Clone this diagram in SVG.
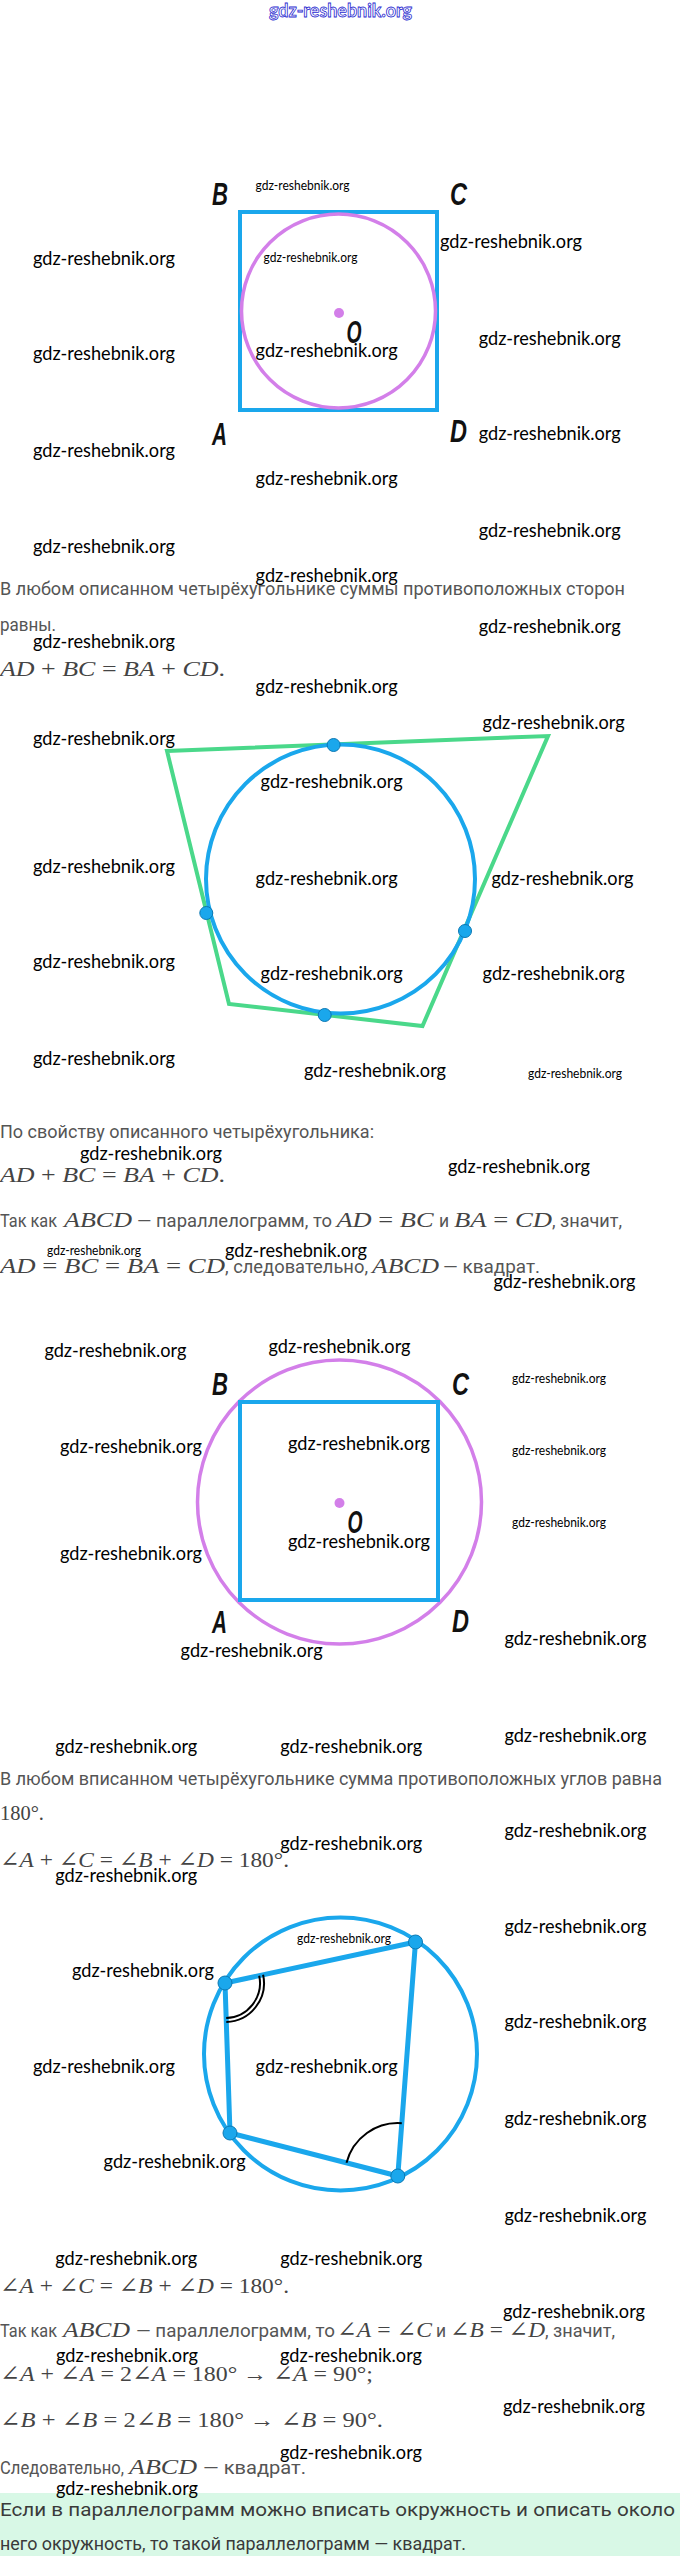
<svg xmlns="http://www.w3.org/2000/svg" width="680" height="2556" viewBox="0 0 680 2556">
<style>
.w{font-family:Lato,"Open Sans",sans-serif;font-size:19px;fill:#000}
.ws{font-family:Lato,"Open Sans",sans-serif;font-size:13px;fill:#000}
.t{font-family:Roboto,"Noto Sans",sans-serif;font-size:17.5px;fill:#555}
.tb{font-family:Roboto,"Noto Sans",sans-serif;font-size:18px;fill:#3a3a3a}
.m{font-family:"Liberation Serif","DejaVu Serif",serif;font-size:22px;fill:#444}
.i{font-style:italic}
.lbl{font-family:"Liberation Sans",sans-serif;font-weight:bold;font-style:italic;font-size:31px;fill:#111}
.blue{fill:none;stroke:#1aa7ec;stroke-width:4}
.vio{fill:none;stroke:#d37fe9;stroke-width:3.5}
.grn{fill:none;stroke:#4ad88a;stroke-width:4;stroke-linejoin:miter}
.dot{fill:#1aa7ec;stroke:#0b78b3;stroke-width:1}
.arc{fill:none;stroke:#000;stroke-width:2}
.top{font-family:Lato,"Open Sans",sans-serif;font-weight:bold;font-size:18px;fill:#fff;stroke:#2b2bd0;stroke-width:0.8}
</style>
<rect x="0" y="0" width="680" height="2556" fill="#fff"/>
<text class="top" x="269" y="17" textLength="143" lengthAdjust="spacingAndGlyphs">gdz-reshebnik.org</text>

<!-- Figure 1: square with inscribed circle -->
<g id="fig1">
<rect class="blue" x="240" y="212" width="197" height="198"/>
<circle class="vio" cx="338.5" cy="311" r="97"/>
<circle cx="339" cy="313" r="5" fill="#d37fe9"/>
<text class="lbl" x="212" y="205" textLength="16" lengthAdjust="spacingAndGlyphs">B</text>
<text class="lbl" x="450" y="205" textLength="17" lengthAdjust="spacingAndGlyphs">C</text>
<text class="lbl" x="212" y="445" textLength="15" lengthAdjust="spacingAndGlyphs">A</text>
<text class="lbl" x="450" y="442" textLength="17" lengthAdjust="spacingAndGlyphs">D</text>
<text class="lbl" x="346.5" y="343" textLength="15" lengthAdjust="spacingAndGlyphs">O</text>
</g>

<!-- Figure 2: circumscribed quadrilateral -->
<g id="fig2">
<polygon class="grn" points="167,751 548,736 422.5,1026 229,1004"/>
<circle class="blue" cx="340.5" cy="879" r="134.5"/>
<circle class="dot" cx="333.6" cy="745" r="6.5"/>
<circle class="dot" cx="206.3" cy="913" r="6.5"/>
<circle class="dot" cx="465" cy="931" r="6.5"/>
<circle class="dot" cx="324.7" cy="1015" r="6.5"/>
</g>

<!-- Figure 3: square inscribed in circle -->
<g id="fig3">
<circle class="vio" cx="339.5" cy="1502" r="142"/>
<rect class="blue" x="240" y="1402" width="198" height="198"/>
<circle cx="339.5" cy="1503" r="5" fill="#d37fe9"/>
<text class="lbl" x="212" y="1395" textLength="16" lengthAdjust="spacingAndGlyphs">B</text>
<text class="lbl" x="452" y="1395" textLength="17" lengthAdjust="spacingAndGlyphs">C</text>
<text class="lbl" x="212" y="1633" textLength="15" lengthAdjust="spacingAndGlyphs">A</text>
<text class="lbl" x="452" y="1632" textLength="17" lengthAdjust="spacingAndGlyphs">D</text>
<text class="lbl" x="347.5" y="1533" textLength="15" lengthAdjust="spacingAndGlyphs">O</text>
</g>

<!-- Figure 4: inscribed quadrilateral -->
<g id="fig4">
<circle class="blue" cx="340.5" cy="2054" r="136.5"/>
<polygon points="415.5,1942 225,1983 230,2133 397.8,2176" fill="none" stroke="#1aa7ec" stroke-width="5" stroke-linejoin="round"/>
<path class="arc" d="M259.2,1975.7 A35,35 0 0 1 226.2,2018"/>
<path class="arc" d="M263.1,1974.8 A39,39 0 0 1 226.3,2022"/>
<path class="arc" d="M346.5,2162.8 A53,53 0 0 1 401.8,2123.2"/>
<circle class="dot" cx="415.5" cy="1942" r="7"/>
<circle class="dot" cx="225" cy="1983" r="7"/>
<circle class="dot" cx="230" cy="2133" r="7"/>
<circle class="dot" cx="397.8" cy="2176" r="7"/>
</g>

<!-- Body text -->
<g id="text">
<text class="t" x="0" y="595" textLength="625" lengthAdjust="spacingAndGlyphs">В любом описанном четырёхугольнике суммы противоположных сторон</text>
<text class="t" x="0" y="631" textLength="56" lengthAdjust="spacingAndGlyphs">равны.</text>
<text class="m" x="0" y="676" textLength="225" lengthAdjust="spacingAndGlyphs"><tspan class="i">AD</tspan> + <tspan class="i">BC</tspan> = <tspan class="i">BA</tspan> + <tspan class="i">CD</tspan>.</text>

<text class="t" x="0" y="1138" textLength="374" lengthAdjust="spacingAndGlyphs">По свойству описанного четырёхугольника:</text>
<text class="m" x="0" y="1182" textLength="225" lengthAdjust="spacingAndGlyphs"><tspan class="i">AD</tspan> + <tspan class="i">BC</tspan> = <tspan class="i">BA</tspan> + <tspan class="i">CD</tspan>.</text>

<text class="t" x="0" y="1227" textLength="57" lengthAdjust="spacingAndGlyphs">Так как</text>
<text class="m i" x="64" y="1227" textLength="68" lengthAdjust="spacingAndGlyphs">ABCD</text>
<text class="t" x="137" y="1227" textLength="195" lengthAdjust="spacingAndGlyphs">— параллелограмм, то</text>
<text class="m" x="336.5" y="1227" textLength="97" lengthAdjust="spacingAndGlyphs"><tspan class="i">AD</tspan> = <tspan class="i">BC</tspan></text>
<text class="t" x="439" y="1227">и</text>
<text class="m" x="454" y="1227" textLength="98" lengthAdjust="spacingAndGlyphs"><tspan class="i">BA</tspan> = <tspan class="i">CD</tspan></text>
<text class="t" x="552" y="1227" textLength="70" lengthAdjust="spacingAndGlyphs">, значит,</text>

<text class="m" x="0" y="1273" textLength="225" lengthAdjust="spacingAndGlyphs"><tspan class="i">AD</tspan> = <tspan class="i">BC</tspan> = <tspan class="i">BA</tspan> = <tspan class="i">CD</tspan></text>
<text class="t" x="225" y="1273" textLength="143" lengthAdjust="spacingAndGlyphs">, следовательно,</text>
<text class="m i" x="372" y="1273" textLength="67" lengthAdjust="spacingAndGlyphs">ABCD</text>
<text class="t" x="443" y="1273" textLength="97" lengthAdjust="spacingAndGlyphs">— квадрат.</text>

<text class="t" x="0" y="1785" textLength="662" lengthAdjust="spacingAndGlyphs">В любом вписанном четырёхугольнике сумма противоположных углов равна</text>
<text class="m" x="0" y="1820" textLength="44" lengthAdjust="spacingAndGlyphs">180°.</text>
<text class="m" x="0" y="1867" textLength="289" lengthAdjust="spacingAndGlyphs">∠<tspan class="i">A</tspan> + ∠<tspan class="i">C</tspan> = ∠<tspan class="i">B</tspan> + ∠<tspan class="i">D</tspan> = 180°.</text>

<text class="m" x="0" y="2293" textLength="289" lengthAdjust="spacingAndGlyphs">∠<tspan class="i">A</tspan> + ∠<tspan class="i">C</tspan> = ∠<tspan class="i">B</tspan> + ∠<tspan class="i">D</tspan> = 180°.</text>

<text class="t" x="0" y="2337" textLength="57" lengthAdjust="spacingAndGlyphs">Так как</text>
<text class="m i" x="63" y="2337" textLength="67" lengthAdjust="spacingAndGlyphs">ABCD</text>
<text class="t" x="136" y="2337" textLength="199" lengthAdjust="spacingAndGlyphs">— параллелограмм, то</text>
<text class="m" x="337" y="2337" textLength="95" lengthAdjust="spacingAndGlyphs">∠<tspan class="i">A</tspan> = ∠<tspan class="i">C</tspan></text>
<text class="t" x="436" y="2337">и</text>
<text class="m" x="450" y="2337" textLength="95" lengthAdjust="spacingAndGlyphs">∠<tspan class="i">B</tspan> = ∠<tspan class="i">D</tspan></text>
<text class="t" x="545" y="2337" textLength="70" lengthAdjust="spacingAndGlyphs">, значит,</text>

<text class="m" x="0" y="2381" textLength="373" lengthAdjust="spacingAndGlyphs">∠<tspan class="i">A</tspan> + ∠<tspan class="i">A</tspan> = 2∠<tspan class="i">A</tspan> = 180°  →  ∠<tspan class="i">A</tspan> = 90°;</text>
<text class="m" x="0" y="2427" textLength="383" lengthAdjust="spacingAndGlyphs">∠<tspan class="i">B</tspan> + ∠<tspan class="i">B</tspan> = 2∠<tspan class="i">B</tspan> = 180°  →  ∠<tspan class="i">B</tspan> = 90°.</text>

<text class="t" x="0" y="2474" textLength="124" lengthAdjust="spacingAndGlyphs">Следовательно,</text>
<text class="m i" x="129" y="2474" textLength="68" lengthAdjust="spacingAndGlyphs">ABCD</text>
<text class="t" x="203" y="2474" textLength="103" lengthAdjust="spacingAndGlyphs">— квадрат.</text>
</g>

<g id="note">
<rect x="0" y="2493" width="680" height="63" fill="#d8f8e6"/>
<text class="tb" x="0" y="2516" textLength="675" lengthAdjust="spacingAndGlyphs">Если в параллелограмм можно вписать окружность и описать около</text>
<text class="tb" x="0" y="2550" textLength="466" lengthAdjust="spacingAndGlyphs">него окружность, то такой параллелограмм — квадрат.</text>
</g>

<!-- Watermarks -->
<g id="watermarks">
<text class="ws" x="255.6" y="190" textLength="94" lengthAdjust="spacingAndGlyphs">gdz-reshebnik.org</text>
<text class="ws" x="263.5" y="262" textLength="94" lengthAdjust="spacingAndGlyphs">gdz-reshebnik.org</text>
<text class="ws" x="528" y="1078" textLength="94" lengthAdjust="spacingAndGlyphs">gdz-reshebnik.org</text>
<text class="ws" x="47" y="1255" textLength="94" lengthAdjust="spacingAndGlyphs">gdz-reshebnik.org</text>
<text class="ws" x="512" y="1383" textLength="94" lengthAdjust="spacingAndGlyphs">gdz-reshebnik.org</text>
<text class="ws" x="512" y="1455" textLength="94" lengthAdjust="spacingAndGlyphs">gdz-reshebnik.org</text>
<text class="ws" x="512" y="1527" textLength="94" lengthAdjust="spacingAndGlyphs">gdz-reshebnik.org</text>
<text class="ws" x="297" y="1943" textLength="94" lengthAdjust="spacingAndGlyphs">gdz-reshebnik.org</text>

<text class="w" x="440" y="248" textLength="142" lengthAdjust="spacingAndGlyphs">gdz-reshebnik.org</text>
<text class="w" x="33" y="265" textLength="142" lengthAdjust="spacingAndGlyphs">gdz-reshebnik.org</text>
<text class="w" x="255.6" y="357" textLength="142" lengthAdjust="spacingAndGlyphs">gdz-reshebnik.org</text>
<text class="w" x="33" y="360" textLength="142" lengthAdjust="spacingAndGlyphs">gdz-reshebnik.org</text>
<text class="w" x="478.7" y="345" textLength="142" lengthAdjust="spacingAndGlyphs">gdz-reshebnik.org</text>
<text class="w" x="478.7" y="440" textLength="142" lengthAdjust="spacingAndGlyphs">gdz-reshebnik.org</text>
<text class="w" x="33" y="457" textLength="142" lengthAdjust="spacingAndGlyphs">gdz-reshebnik.org</text>
<text class="w" x="255.6" y="485" textLength="142" lengthAdjust="spacingAndGlyphs">gdz-reshebnik.org</text>
<text class="w" x="478.7" y="537" textLength="142" lengthAdjust="spacingAndGlyphs">gdz-reshebnik.org</text>
<text class="w" x="33" y="553" textLength="142" lengthAdjust="spacingAndGlyphs">gdz-reshebnik.org</text>
<text class="w" x="255.6" y="582" textLength="142" lengthAdjust="spacingAndGlyphs">gdz-reshebnik.org</text>
<text class="w" x="478.7" y="633" textLength="142" lengthAdjust="spacingAndGlyphs">gdz-reshebnik.org</text>
<text class="w" x="33" y="648" textLength="142" lengthAdjust="spacingAndGlyphs">gdz-reshebnik.org</text>
<text class="w" x="255.6" y="693" textLength="142" lengthAdjust="spacingAndGlyphs">gdz-reshebnik.org</text>
<text class="w" x="482.6" y="729" textLength="142" lengthAdjust="spacingAndGlyphs">gdz-reshebnik.org</text>
<text class="w" x="33" y="745" textLength="142" lengthAdjust="spacingAndGlyphs">gdz-reshebnik.org</text>
<text class="w" x="260.6" y="788" textLength="142" lengthAdjust="spacingAndGlyphs">gdz-reshebnik.org</text>
<text class="w" x="33" y="873" textLength="142" lengthAdjust="spacingAndGlyphs">gdz-reshebnik.org</text>
<text class="w" x="255.6" y="885" textLength="142" lengthAdjust="spacingAndGlyphs">gdz-reshebnik.org</text>
<text class="w" x="491.5" y="885" textLength="142" lengthAdjust="spacingAndGlyphs">gdz-reshebnik.org</text>
<text class="w" x="33" y="968" textLength="142" lengthAdjust="spacingAndGlyphs">gdz-reshebnik.org</text>
<text class="w" x="260.6" y="980" textLength="142" lengthAdjust="spacingAndGlyphs">gdz-reshebnik.org</text>
<text class="w" x="482.6" y="980" textLength="142" lengthAdjust="spacingAndGlyphs">gdz-reshebnik.org</text>
<text class="w" x="33" y="1065" textLength="142" lengthAdjust="spacingAndGlyphs">gdz-reshebnik.org</text>
<text class="w" x="304" y="1077" textLength="142" lengthAdjust="spacingAndGlyphs">gdz-reshebnik.org</text>
<text class="w" x="80" y="1160" textLength="142" lengthAdjust="spacingAndGlyphs">gdz-reshebnik.org</text>
<text class="w" x="448" y="1173" textLength="142" lengthAdjust="spacingAndGlyphs">gdz-reshebnik.org</text>
<text class="w" x="225" y="1257" textLength="142" lengthAdjust="spacingAndGlyphs">gdz-reshebnik.org</text>
<text class="w" x="493.5" y="1288" textLength="142" lengthAdjust="spacingAndGlyphs">gdz-reshebnik.org</text>
<text class="w" x="44.4" y="1357" textLength="142" lengthAdjust="spacingAndGlyphs">gdz-reshebnik.org</text>
<text class="w" x="268.5" y="1353" textLength="142" lengthAdjust="spacingAndGlyphs">gdz-reshebnik.org</text>
<text class="w" x="60" y="1453" textLength="142" lengthAdjust="spacingAndGlyphs">gdz-reshebnik.org</text>
<text class="w" x="288" y="1450" textLength="142" lengthAdjust="spacingAndGlyphs">gdz-reshebnik.org</text>
<text class="w" x="288" y="1548" textLength="142" lengthAdjust="spacingAndGlyphs">gdz-reshebnik.org</text>
<text class="w" x="60" y="1560" textLength="142" lengthAdjust="spacingAndGlyphs">gdz-reshebnik.org</text>
<text class="w" x="504.4" y="1645" textLength="142" lengthAdjust="spacingAndGlyphs">gdz-reshebnik.org</text>
<text class="w" x="180.6" y="1657" textLength="142" lengthAdjust="spacingAndGlyphs">gdz-reshebnik.org</text>
<text class="w" x="504.4" y="1742" textLength="142" lengthAdjust="spacingAndGlyphs">gdz-reshebnik.org</text>
<text class="w" x="55.3" y="1753" textLength="142" lengthAdjust="spacingAndGlyphs">gdz-reshebnik.org</text>
<text class="w" x="280.3" y="1753" textLength="142" lengthAdjust="spacingAndGlyphs">gdz-reshebnik.org</text>
<text class="w" x="504.4" y="1837" textLength="142" lengthAdjust="spacingAndGlyphs">gdz-reshebnik.org</text>
<text class="w" x="280.3" y="1850" textLength="142" lengthAdjust="spacingAndGlyphs">gdz-reshebnik.org</text>
<text class="w" x="55.3" y="1882" textLength="142" lengthAdjust="spacingAndGlyphs">gdz-reshebnik.org</text>
<text class="w" x="504.4" y="1933" textLength="142" lengthAdjust="spacingAndGlyphs">gdz-reshebnik.org</text>
<text class="w" x="72" y="1977" textLength="142" lengthAdjust="spacingAndGlyphs">gdz-reshebnik.org</text>
<text class="w" x="504.4" y="2028" textLength="142" lengthAdjust="spacingAndGlyphs">gdz-reshebnik.org</text>
<text class="w" x="33" y="2073" textLength="142" lengthAdjust="spacingAndGlyphs">gdz-reshebnik.org</text>
<text class="w" x="255.6" y="2073" textLength="142" lengthAdjust="spacingAndGlyphs">gdz-reshebnik.org</text>
<text class="w" x="504.4" y="2125" textLength="142" lengthAdjust="spacingAndGlyphs">gdz-reshebnik.org</text>
<text class="w" x="103.6" y="2168" textLength="142" lengthAdjust="spacingAndGlyphs">gdz-reshebnik.org</text>
<text class="w" x="504.4" y="2222" textLength="142" lengthAdjust="spacingAndGlyphs">gdz-reshebnik.org</text>
<text class="w" x="55.3" y="2265" textLength="142" lengthAdjust="spacingAndGlyphs">gdz-reshebnik.org</text>
<text class="w" x="280.3" y="2265" textLength="142" lengthAdjust="spacingAndGlyphs">gdz-reshebnik.org</text>
<text class="w" x="503" y="2318" textLength="142" lengthAdjust="spacingAndGlyphs">gdz-reshebnik.org</text>
<text class="w" x="56" y="2362" textLength="142" lengthAdjust="spacingAndGlyphs">gdz-reshebnik.org</text>
<text class="w" x="280" y="2362" textLength="142" lengthAdjust="spacingAndGlyphs">gdz-reshebnik.org</text>
<text class="w" x="503" y="2413" textLength="142" lengthAdjust="spacingAndGlyphs">gdz-reshebnik.org</text>
<text class="w" x="280" y="2459" textLength="142" lengthAdjust="spacingAndGlyphs">gdz-reshebnik.org</text>
<text class="w" x="56" y="2495" textLength="142" lengthAdjust="spacingAndGlyphs">gdz-reshebnik.org</text>
</g>
</svg>
